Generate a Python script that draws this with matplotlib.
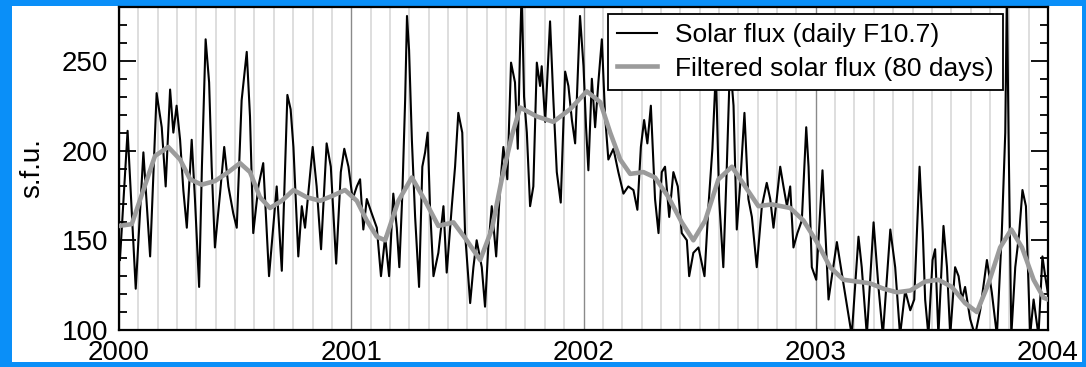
import matplotlib
matplotlib.use("Agg")
import matplotlib.pyplot as plt
from matplotlib.ticker import MultipleLocator
from matplotlib.patches import Rectangle

plt.rcParams['font.family'] = ['Liberation Sans', 'DejaVu Sans']

# daily F10.7 (peaks and troughs)
flux_t = [2000.004, 2000.037, 2000.072, 2000.105, 2000.126, 2000.134, 2000.162, 2000.184,
          2000.201, 2000.220, 2000.234, 2000.248, 2000.263, 2000.277, 2000.292, 2000.313,
          2000.327, 2000.345, 2000.357, 2000.373, 2000.388, 2000.399, 2000.413, 2000.435,
          2000.453, 2000.471, 2000.492, 2000.507, 2000.528, 2000.550, 2000.564, 2000.578,
          2000.600, 2000.621, 2000.646, 2000.679, 2000.701, 2000.725, 2000.739, 2000.751,
          2000.772, 2000.787, 2000.801, 2000.834, 2000.851, 2000.870, 2000.894, 2000.912,
          2000.935, 2000.955, 2000.970, 2000.988, 2001.006, 2001.024, 2001.038, 2001.052,
          2001.067, 2001.088, 2001.110, 2001.128, 2001.146, 2001.163, 2001.181, 2001.196,
          2001.207, 2001.220, 2001.232, 2001.240, 2001.249, 2001.261, 2001.275, 2001.292,
          2001.306, 2001.318, 2001.329, 2001.339, 2001.354, 2001.375, 2001.397, 2001.411,
          2001.433, 2001.447, 2001.461, 2001.478, 2001.490, 2001.512, 2001.526, 2001.540,
          2001.562, 2001.576, 2001.590, 2001.605, 2001.624, 2001.641, 2001.655, 2001.672,
          2001.688, 2001.705, 2001.717, 2001.727, 2001.734, 2001.744, 2001.756, 2001.770,
          2001.784, 2001.799, 2001.813, 2001.820, 2001.835, 2001.856, 2001.870, 2001.885,
          2001.902, 2001.921, 2001.935, 2001.950, 2001.964, 2001.985, 2002.000, 2002.011,
          2002.021, 2002.036, 2002.050, 2002.064, 2002.079, 2002.093, 2002.107, 2002.129,
          2002.150, 2002.172, 2002.193, 2002.215, 2002.232, 2002.247, 2002.261, 2002.275,
          2002.290, 2002.308, 2002.323, 2002.337, 2002.351, 2002.369, 2002.387, 2002.406,
          2002.423, 2002.445, 2002.455, 2002.473, 2002.495, 2002.521, 2002.538, 2002.555,
          2002.570, 2002.584, 2002.602, 2002.617, 2002.631, 2002.646, 2002.660, 2002.674,
          2002.693, 2002.710, 2002.725, 2002.746, 2002.768, 2002.789, 2002.804, 2002.818,
          2002.832, 2002.847, 2002.861, 2002.876, 2002.890, 2002.904, 2002.921, 2002.940,
          2002.959, 2002.969, 2002.983, 2003.002, 2003.029, 2003.055, 2003.091, 2003.119,
          2003.155, 2003.184, 2003.198, 2003.220, 2003.249, 2003.270, 2003.289, 2003.321,
          2003.342, 2003.363, 2003.385, 2003.407, 2003.424, 2003.447, 2003.461, 2003.471,
          2003.485, 2003.503, 2003.514, 2003.528, 2003.550, 2003.565, 2003.579, 2003.600,
          2003.615, 2003.629, 2003.643, 2003.665, 2003.686, 2003.708, 2003.737, 2003.758,
          2003.780, 2003.801, 2003.816, 2003.823, 2003.830, 2003.842, 2003.859, 2003.876,
          2003.890, 2003.905, 2003.923, 2003.938, 2003.959, 2003.976, 2003.988, 2004.000]
flux_v = [139, 211, 123, 199, 157, 141, 232, 213,
          180, 234, 210, 225, 206, 178, 157, 206,
          173, 124, 191, 262, 238, 191, 146, 176,
          202, 180, 165, 157, 228, 255, 219, 154,
          180, 193, 130, 180, 133, 231, 223, 202,
          141, 169, 157, 202, 180, 145, 204, 191,
          137, 188, 201, 191, 173, 180, 184, 156,
          173, 165, 157, 130, 152, 130, 176, 157,
          135, 176, 228, 275, 256, 206, 163, 124,
          191, 199, 210, 169, 130, 143, 169, 132,
          169, 191, 221, 210, 154, 115, 135, 150,
          135, 113, 146, 169, 141, 180, 202, 184,
          249, 238, 201, 258, 290, 230, 210, 169,
          180, 249, 236, 247, 216, 272, 229, 188,
          171, 244, 236, 217, 204, 275, 247, 213,
          189, 240, 213, 238, 262, 219, 195, 201,
          188, 176, 180, 178, 167, 202, 217, 204,
          225, 173, 154, 188, 191, 163, 188, 180,
          154, 150, 130, 143, 146, 130, 169, 201,
          245, 173, 135, 191, 250, 225, 156, 180,
          221, 173, 163, 135, 169, 182, 173, 157,
          173, 191, 180, 169, 180, 146, 154, 161,
          213, 191, 135, 128, 189, 117, 149, 126,
          97, 152, 135, 97, 160, 124, 97, 156,
          135, 97, 122, 111, 117, 191, 154, 117,
          97, 139, 145, 97, 158, 135, 97, 135,
          130, 117, 124, 106, 97, 111, 139, 121,
          97, 154, 210, 290, 210, 97, 135, 154,
          178, 169, 97, 117, 97, 141, 130, 120]

# 80-day filtered flux
filt_t = [2000.000, 2000.055, 2000.105, 2000.155, 2000.212, 2000.263, 2000.306, 2000.356,
          2000.413, 2000.471, 2000.521, 2000.564, 2000.607, 2000.650, 2000.701, 2000.751,
          2000.808, 2000.866, 2000.923, 2000.973, 2001.024, 2001.067, 2001.110, 2001.146,
          2001.203, 2001.261, 2001.318, 2001.375, 2001.440, 2001.497, 2001.555, 2001.605,
          2001.648, 2001.691, 2001.727, 2001.799, 2001.870, 2001.942, 2002.014, 2002.072,
          2002.115, 2002.158, 2002.201, 2002.258, 2002.308, 2002.366, 2002.423, 2002.473,
          2002.524, 2002.581, 2002.639, 2002.696, 2002.753, 2002.811, 2002.890, 2002.947,
          2003.005, 2003.062, 2003.119, 2003.177, 2003.234, 2003.292, 2003.349, 2003.407,
          2003.471, 2003.528, 2003.586, 2003.643, 2003.694, 2003.744, 2003.794, 2003.842,
          2003.888, 2003.938, 2003.981, 2004.000]
filt_v = [158, 159, 178, 197, 202, 195, 184, 181,
          183, 188, 193, 188, 174, 168, 172, 178,
          174, 172, 175, 178, 172, 161, 152, 150,
          172, 185, 172, 158, 160, 150, 139, 156,
          184, 208, 224, 219, 216, 223, 233, 227,
          210, 195, 187, 188, 185, 174, 160, 150,
          161, 184, 191, 180, 169, 170, 168, 161,
          149, 135, 128, 127, 126, 123, 121, 122,
          127, 128, 124, 115, 110, 126, 146, 156,
          146, 128, 118, 117]

year_ticks = [2000, 2001, 2002, 2003, 2004]
year_labels = ['2000', '2001', '2002', '2003', '2004']

fig = plt.figure(figsize=(10.86, 3.67), dpi=100, facecolor='#0a8ff8')
# white panel inside the blue frame
panel = Rectangle((12 / 1086, 5 / 367), 1070 / 1086, 356 / 367,
                  transform=fig.transFigure, facecolor='white', edgecolor='none')
panel.set_zorder(-10)
fig.add_artist(panel)

ax = fig.add_axes([119 / 1086, 37 / 367, 929 / 1086, 323 / 367])
ax.set_facecolor('white')

ax.plot(flux_t, flux_v, color='black', lw=1.5, label='Solar flux (daily F10.7)', zorder=3)
ax.plot(filt_t, filt_v, color='#9b9b9b', lw=3.3, label='Filtered solar flux (80 days)', zorder=4)

ax.set_xlim(2000, 2004)
ax.set_ylim(100, 280)
ax.set_xticks(year_ticks)
ax.set_xticklabels(year_labels)
ax.xaxis.set_minor_locator(MultipleLocator(1 / 12))
ax.set_yticks([100, 150, 200, 250])
ax.yaxis.set_minor_locator(MultipleLocator(10))

ax.grid(which='minor', axis='x', color='#dedede', lw=1.4)
ax.grid(which='major', axis='x', color='#8a8a8a', lw=1.0)
ax.set_axisbelow(True)

ax.tick_params(axis='x', which='both', length=0, labelsize=20, pad=7)
ax.tick_params(axis='y', which='both', direction='in', left=True, right=True,
               labelsize=20, width=1.3, pad=8)
ax.tick_params(axis='y', which='major', length=12)
ax.tick_params(axis='y', which='minor', length=6)
for sp in ax.spines.values():
    sp.set_linewidth(1.6)

ax.set_ylabel('s.f.u.', fontsize=20, labelpad=12)

leg = ax.legend(loc='upper left', bbox_to_anchor=(0.5264, 0.978), borderaxespad=0,
                fontsize=19, frameon=True, fancybox=False, framealpha=1,
                edgecolor='black', handlelength=1.5, handletextpad=0.7,
                borderpad=0.35, labelspacing=0.35)
leg.get_frame().set_linewidth(1.3)
leg.set_zorder(10)

fig.savefig('out.png', dpi=100, facecolor=fig.get_facecolor())
